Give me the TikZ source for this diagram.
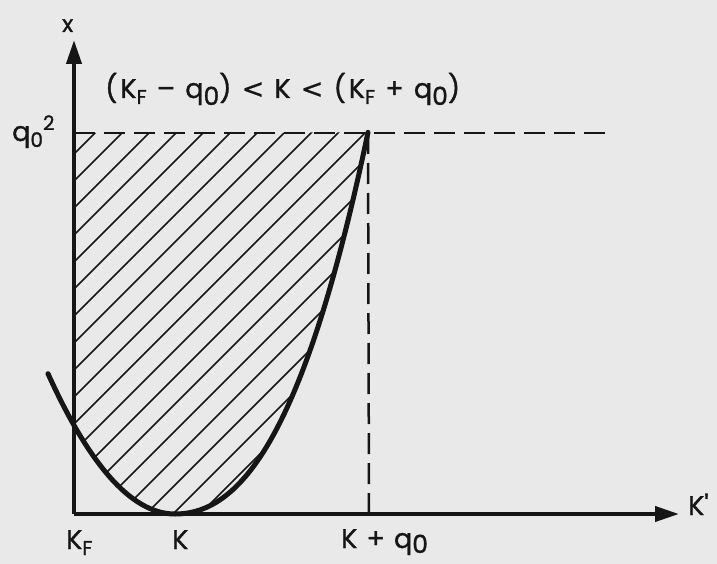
\documentclass[tikz,border=0pt]{standalone}
\usepackage{fontspec}
\setmainfont{Poppins}[FakeBold=1.2,LetterSpace=7]
\newfontfamily\symfont{DejaVu Sans}[FakeBold=0.6]
\usetikzlibrary{arrows.meta}
\definecolor{paper}{RGB}{233,233,233}
\definecolor{ink}{RGB}{22,22,22}
\newcommand{\lsub}[1]{\raisebox{-6pt}{\fontsize{20}{20}\selectfont #1}}
\newcommand{\bigsub}[1]{\raisebox{-7pt}{\fontsize{25}{25}\selectfont #1}}
\newcommand{\hsup}[1]{\raisebox{11pt}{\fontsize{20}{20}\selectfont #1}}
\newcommand{\lt}{{\symfont <}}
\begin{document}
\begin{tikzpicture}[x=1pt,y=-1pt,
  axis/.style={draw=ink,line width=4pt,-{Triangle[length=24pt,width=15pt]}},
  guide/.style={draw=ink,line width=2.5pt,dash pattern=on 21pt off 9pt},
  hatch/.style={draw=ink,line width=1.5pt},
  curveline/.style={draw=ink,line width=5pt,line cap=round,line join=round},
  lab/.style={inner sep=0pt,anchor=base west,text=ink,font=\fontsize{27}{30}\selectfont}]
\fill[paper] (0,0) rectangle (717,564);
\useasboundingbox (0,0) rectangle (717,564);
\coordinate (O) at (74,514);
\coordinate (ytip) at (74,40);
\coordinate (xtip) at (679,514);
\coordinate (T) at (74,133);
\coordinate (P) at (368,133);
\coordinate (Q) at (610,133);
\coordinate (B) at (369,514);
% hatching
\begin{scope}
\clip (T) -- plot[domain=368:175,samples=60] (\x,{514-0.6*((\x-175)/10)^2-0.022*((\x-175)/10)^3})
  -- plot[domain=175:74,samples=40] (\x,{514-0.87*((\x-175)/10)^2}) -- cycle;
\foreach \c in {228,255,...,780} \draw[hatch] ({\c-600},600) -- (\c,0);
\end{scope}
% guides
\draw[guide] (T) -- (Q);
\draw[guide] (P) -- (B);
% curve
\draw[curveline] plot[domain=48:175,samples=50] (\x,{514-0.87*((\x-175)/10)^2})
  -- plot[domain=175:368,samples=70] (\x,{514-0.6*((\x-175)/10)^2-0.022*((\x-175)/10)^3});
% axes
\draw[axis] (O) -- (ytip);
\draw[axis] (O) -- (xtip);
% labels
\node[lab,font=\fontsize{23}{25}\selectfont] (xl) at (62,32) {x};
\node[lab] (kpl) at (688,515) {K\textquotesingle};
\node[lab] (q2) at (12,141) {q\lsub{0}\hsup{2}};
\node[lab] (kf) at (66,549) {K\lsub{F}};
\node[lab] (kk) at (172,549) {K};
\node[lab] (kq) at (341,548) {K + q\raisebox{-5pt}{\fontsize{25}{25}\selectfont 0}};
\node[lab,font=\fontsize{27}{30}\selectfont\addfontfeature{LetterSpace=11}] (title) at (105,98) {(K\lsub{F} – q\bigsub{0}) \lt{} K \lt{} (K\lsub{F} + q\bigsub{0})};
\end{tikzpicture}
\end{document}
